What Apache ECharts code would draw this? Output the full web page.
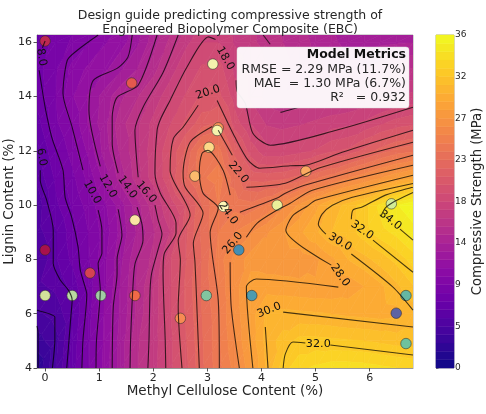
<!DOCTYPE html>
<html>
<head>
<meta charset="utf-8">
<style>html,body{margin:0;padding:0;background:#fff}#chart{width:486px;height:414px}</style>
<script src="https://cdn.jsdelivr.net/npm/echarts@6/dist/echarts.min.js"></script>
</head>
<body>
<div id="chart"></div>
<script>
// Grid nodes of the predicted strength surface
const gridX = [-0.15,0.2,0.5,0.8,1.1,1.4,1.7,2.0,2.3,2.6,2.9,3.2,3.5,3.8,4.1,4.4,4.7,5.0,5.3,5.6,5.9,6.2,6.5,6.8];
const gridY = [4,5,6,7,8,9,10,11,12,13,14,15,16,16.27];
// Predicted compressive strength (MPa), one row per lignin level
const strength = [
 [1.9,4.5,6.7,8.9,11.1,13,15.2,16.6,18.5,20.4,22.3,23.9,25.5,27.7,29.9,32,33,33.5,33.8,33.8,33.7,33.5,33.3,33.1],
 [3.2,4.2,6.5,8.8,11,13,15.1,16.5,18.5,20.6,22.4,24,26,28.2,30.1,31,31.8,31.8,31.7,31.6,31.5,31.3,31.1,31],
 [4.3,4.9,6.1,8.6,10.9,12.8,14.6,16.4,18.7,20.8,22.5,24,26.3,28.3,30,30,29.9,29.8,29.7,29.5,29.4,29.3,29.4,30],
 [5.2,5.6,6.6,8.4,10.6,12.7,14.5,16.3,18.7,20.9,22.6,24.3,26.4,28.5,28.3,28.2,28.1,28,28,28.2,28.8,29.5,30.4,31.4],
 [4.4,6.2,7.4,8.9,10.6,12.4,14.3,15.6,18.7,20.6,22.5,24.6,26.4,27.4,27.4,27.4,27.4,27.7,28.6,29.7,30.3,31,31.8,32.8],
 [5,6.2,7.7,9,10.3,12,13.6,15.1,17,20.5,22.7,24.3,25.2,26,26.9,27.8,28.6,29.5,30.6,31,32,32.9,33.6,34.6],
 [4.8,7,8.2,9.4,10.6,12.2,14,15.8,18.2,20,22.5,24.3,24,23.7,24.4,25.8,27.2,28.5,30,31,32,33.6,35,36],
 [5.6,7.4,8.7,10.2,12,14,15.8,17.6,19.8,22.3,24.1,24.8,23,21.3,21.2,21.4,21.9,23.3,24,25.2,26,27,27.9,28.7],
 [6,8,9.4,11,13,14.6,16,17.7,19.8,21.8,24,23.8,21.3,19.4,18.3,18.3,18.6,19,19.7,20,21,22,22.8,23.2],
 [6.8,8.8,10,11.8,13.2,15,16,17.4,18.8,20,21.2,21.8,19.4,18,17,16.8,17,17.3,17.6,17.8,18.2,18.8,19.3,19.6],
 [7.6,9,10.7,11.8,13,14.2,15.2,16.4,17.8,19,20,20.1,18.5,16.9,15.9,15.4,15.6,15.8,16,16.1,16.4,16.8,17.2,17.4],
 [7.7,8.9,10.2,11,11.5,12.5,13.5,14.9,16.5,18,19.1,19.4,17.8,16.9,16.2,15.6,14.9,14.6,14.3,14.3,14.5,14.9,15.1,15.4],
 [7,8.6,9.1,9.8,10.7,11.3,12.4,14,15.5,16.8,18,18,17,16.4,15.9,15.3,14.8,14.2,13.7,13.2,13.2,13.3,13.4,13.5],
 [7,8.5,9,9.6,10.3,11.2,12.2,13.9,15.2,16.5,17.6,17.8,17,16.4,15.8,15.2,14.7,14.1,13.6,13.1,13.1,13.2,13.3,13.4]
];

// Iso-strength lines, each level split into runs where the line is unbroken
const contour2 = [[[-0.15,5.55],[-0.13,5.3],[-0.13,4]]];
const contour4 = [[[-0.15,6.13],[0.09,5.99],[0.18,5.88],[0.18,5.03],[0.135,4]]];
const contour6 = [[[-0.09,11.29],[-0.09,10.92],[0.03,10.18],[0.15,9.08],[0.15,7.86],[0.28,7.24],[0.43,6.87],[0.5,6.5],[0.48,5.99],[0.4,4]]];
const contour8 = [
 [[0,16.05],[-0.05,15.8]],
 [[-0.11,14.97],[0,13.61],[0.09,12.76],[0.14,12.39],[0.33,11.29],[0.37,10.29],[0.49,9.56],[0.61,8.45],[0.65,7.61],[0.74,6.98],[0.77,6.72],[0.7,5.03],[0.68,4]]
];
const contour10 = [
 [[0.98,16.27],[0.59,15.7],[0.41,15.34],[0.33,14.12],[0.5,12.87],[0.7,11.29]],
 [[0.98,9.82],[1.05,9.08],[1.05,8.23],[0.98,7.86],[1.02,6.87],[0.95,5.03],[0.94,4]]
];
const contour12 = [
 [[1.61,16.27],[1.53,15.45],[1.33,15.04],[0.89,14.6],[0.81,13.5],[1.02,11.43]],
 [[1.35,9.85],[1.42,8.9],[1.33,8.01],[1.33,7.46],[1.26,6.25],[1.24,4]]
];
const contour14 = [
 [[2.07,16.27],[1.72,14.42],[1.33,13.97],[1.24,13.24],[1.24,12.28],[1.35,11.18]],
 [[1.7,9.93],[1.79,9.3],[1.81,8.71],[1.66,7.83],[1.62,6.87],[1.58,5.03],[1.57,4]]
];
const contour16 = [
 [[2.46,16.27],[2.18,14.89],[1.81,13.61],[1.66,12.76],[1.72,11.03]],
 [[2.03,10],[2.09,9.45],[2.16,8.93],[2.1,8.45],[1.97,7.5],[1.94,6.87],[1.92,5.03],[1.9,4]],
 [[4.03,16.27],[4.16,15.93]],
 [[4.35,13.42],[4.5,13.5],[4.7,13.62]]
];
const contour18 = [
 [[3.15,16.1],[3.02,16.2],[2.62,15.08],[2.31,13.86],[2.14,13.2],[2.07,12.76],[2.03,11.18],[2.13,10.44],[2.42,9.34],[2.42,8.97],[2.2,8.2],[2.18,7.5],[2.22,5.03],[2.23,4]],
 [[3.53,14.6],[3.55,14.2],[3.7,13.75],[3.84,12.65],[4.16,12.21],[5.38,12.76],[6.8,13.61]]
];
const contour20 = [
 [[2.83,13.68],[2.55,12.87],[2.37,12.45],[2.31,11.29],[2.68,9.63],[2.46,8.71],[2.5,7.97],[2.46,6.25],[2.53,4]],
 [[3.18,13.86],[3.51,12.5],[3.75,11.66],[3.97,11.36],[4.53,11.45],[4.81,11.47],[5.49,11.95],[6.8,12.76]]
];
const contour22 = [
 [[3.09,12.9],[2.68,12.32],[2.55,11.18],[2.59,10.66],[2.92,9.7],[2.74,8.6],[2.77,7.9],[2.81,6],[2.85,4]],
 [[3.2,12.76],[3.46,11.84]],
 [[3.72,10.66],[4.44,10.81],[5.05,11.36],[6.8,12.32]]
];
const contour24 = [
 [[3.22,4],[3.2,6.5],[3.05,9],[3.2,9.89],[2.92,10.44],[2.85,11.18],[2.9,11.91],[3.01,12.02],[3.29,11.29],[3.42,10.37]],
 [[3.6,9.74],[4.29,10.26],[4.44,10.44],[4.81,10.74],[6.8,11.84]]
];
const contour26 = [
 [[3.42,7.9],[3.44,6.25],[3.59,4]],
 [[3.72,8.82],[3.92,9.34],[4.29,9.82],[4.53,10.07],[4.94,10.55],[6.8,11.47]]
];
const contour28 = [
 [[3.84,4],[3.72,6.98],[3.9,7.28],[5.42,6.98]],
 [[5.29,7.79],[4.45,9.08],[4.57,9.6],[4.85,9.97],[5,10.18],[6.8,11.1]]
];
const contour30 = [
 [[4.12,4],[4.07,5.51]],
 [[4.4,6.06],[6.8,5.51]],
 [[5.19,8.93],[5.05,9.3],[5.12,9.67],[5.31,10],[5.68,10.29],[6.8,10.8]],
 [[5.66,8.2],[6.43,6.98],[6.8,6.13]]
];
const contour32 = [
 [[4.4,4],[4.44,4.52],[4.58,4.96],[4.81,4.92]],
 [[5.27,4.85],[6.8,4.48]],
 [[5.66,9.48],[5.69,9.82],[5.86,9.93],[6.29,10.37],[6.8,10.66]],
 [[6.06,8.71],[6.8,7.53]]
];
const contour34 = [
 [[6.21,9.6],[6.29,9.9],[6.47,10.15],[6.8,10.47]],
 [[6.56,9.12],[6.8,8.71]]
];
const contourLevels = [contour2,contour4,contour6,contour8,contour10,contour12,contour14,contour16,contour18,contour20,contour22,contour24,contour26,contour28,contour30,contour32,contour34];

// In-line contour labels
const labelText = ['8.0','6.0','10.0','12.0','14.0','16.0','18.0','20.0','22.0','24.0','26.0','28.0','30.0','30.0','32.0','32.0','34.0'];
const labelX = [-0.07,-0.065,0.87,1.16,1.52,1.87,3.33,3.01,3.57,3.38,3.47,5.45,5.45,4.14,5.86,5.05,6.38];
const labelY = [15.45,11.77,10.48,10.7,10.66,10.48,15.41,14.16,11.21,9.7,8.6,7.42,8.64,6.13,9.08,4.88,9.45];
const labelAngle = [-80,-80,-60,-60,-55,-50,-60,18,-50,-55,50,-55,-30,22,-35,0,-38];

// Measured specimens: composition and strength class for colouring
const pointCellulose = [0,1.6,3.1,3.2,3.18,3.03,2.77,4.82,4.29,6.4,3.3,1.66,0,0.83,3.58,0,0.5,1.03,1.66,2.5,2.98,3.82,6.49,6.67,6.67];
const pointLignin = [16.05,14.5,15.2,12.85,12.75,12.13,11.07,11.25,10,10.05,9.95,9.45,8.35,7.5,8.35,6.67,6.67,6.67,6.67,5.83,6.67,6.67,6.02,6.67,4.9];
const pointClass = [2.5,5.8,19.4,9.7,19,14.4,12,10.8,21,23,18,16.2,1,4.3,32,22.3,24,25.6,7.2,9,27.7,31.3,35,29.5,28.8];

// Axis ticks
const xTicks = [0,1,2,3,4,5,6];
const yTicks = [4,6,8,10,12,14,16];
const barTicks = [0,4.5,9,13.5,18,22.5,27,31.5,36];
const barTickLabels = ['0','5','9','14','18','23','27','32','36'];

const metricsLines = ['RMSE = 2.29 MPa (11.7%)','MAE  = 1.30 MPa (6.7%)','R\u00b2   = 0.932'];

const PLASMA = ['#0d0887','#41049d','#6a00a8','#8f0da4','#b12a90','#cc4778','#e16462','#f2844b','#fca636','#fcce25','#f0f921'];
const SPECTRAL = ['#9e0142','#d53e4f','#f46d43','#fdae61','#fee08b','#ffffbf','#e6f598','#abdda4','#66c2a5','#3288bd','#5e4fa2'];
const ZMAX = 36, BAND_COUNT = 40;

function ramp(table, t) {
  t = Math.max(0, Math.min(1, t));
  const f = t * (table.length - 1), i = Math.min(table.length - 2, Math.floor(f)), k = f - i;
  const a = parseInt(table[i].slice(1), 16), b = parseInt(table[i + 1].slice(1), 16);
  const mix = s => Math.round(((a >> s) & 255) * (1 - k) + ((b >> s) & 255) * k);
  return 'rgb(' + mix(16) + ',' + mix(8) + ',' + mix(0) + ')';
}

const bands = [];
for (let i = 0; i < BAND_COUNT; i++) {
  const lo = i * ZMAX / BAND_COUNT, hi = (i + 1) * ZMAX / BAND_COUNT;
  bands.push({ lo, hi, color: ramp(PLASMA, (lo + hi) / 2 / ZMAX) });
}

// Clip a polygon [x,y,z] against z >= limit (sign 1) or z <= limit (sign -1)
function clipZ(poly, limit, sign) {
  const out = [];
  for (let i = 0; i < poly.length; i++) {
    const p = poly[i], q = poly[(i + 1) % poly.length];
    const pIn = sign * (p[2] - limit) >= 0, qIn = sign * (q[2] - limit) >= 0;
    if (pIn) out.push(p);
    if (pIn !== qIn) {
      const k = (limit - p[2]) / (q[2] - p[2]);
      out.push([p[0] + k * (q[0] - p[0]), p[1] + k * (q[1] - p[1]), limit]);
    }
  }
  return out;
}

// Triangles of the surface, used as the items of the filled-contour series
const triangles = [];
for (let r = 0; r < gridY.length - 1; r++) {
  for (let c = 0; c < gridX.length - 1; c++) {
    const v = (i, j) => [gridX[j], gridY[i], strength[i][j]];
    triangles.push([v(r, c), v(r, c + 1), v(r + 1, c + 1)]);
    triangles.push([v(r, c), v(r + 1, c + 1), v(r + 1, c)]);
  }
}

function renderTriangle(params, api) {
  const tri = triangles[params.dataIndex];
  const zs = tri.map(p => p[2]);
  const zMin = Math.min(...zs), zMax = Math.max(...zs);
  const children = [];
  bands.forEach(b => {
    if (b.hi < zMin || b.lo > zMax) return;
    let poly = clipZ(tri, b.lo, 1);
    if (poly.length) poly = clipZ(poly, b.hi, -1);
    if (poly.length < 3) return;
    children.push({
      type: 'polygon',
      shape: { points: poly.map(p => api.coord([p[0], p[1]])) },
      style: { fill: b.color, stroke: b.color, lineWidth: 0.7 }
    });
  });
  return { type: 'group', children };
}

const contourSeries = [];
contourLevels.forEach(runs => runs.forEach(run => contourSeries.push({
  type: 'line', data: run, smooth: 0.25, showSymbol: false, silent: true, z: 4,
  lineStyle: { color: 'rgba(0,0,0,0.72)', width: 1.1 }
})));

const TEXT = '#262626';
const FONT = '"DejaVu Sans", sans-serif';

const option = {
  animation: false,
  textStyle: { fontFamily: FONT },
  title: {
    text: 'Design guide predicting compressive strength of\nEngineered Biopolymer Composite (EBC)',
    left: 225, top: 4, textAlign: 'center',
    textStyle: { fontFamily: FONT, fontSize: 12.5, fontWeight: 'normal', color: TEXT, lineHeight: 14 }
  },
  grid: [
    { left: 37, right: 73, top: 35, bottom: 46, outerBoundsMode: 'none', show: true, borderColor: '#aaa', borderWidth: 1 },
    { left: 436, right: 32, top: 35, bottom: 46, outerBoundsMode: 'none', show: true, borderColor: '#aaa', borderWidth: 1 }
  ],
  xAxis: [
    {
      type: 'value', gridIndex: 0, min: -0.15, max: 6.8,
      name: 'Methyl Cellulose Content (%)', nameLocation: 'middle', nameGap: 16, nameMoveOverlap: false,
      nameTextStyle: { fontSize: 13.5, color: TEXT },
      splitLine: { show: false },
      axisLine: { onZero: false, lineStyle: { color: '#999' } },
      axisTick: { customValues: xTicks, length: 3.5, lineStyle: { color: '#555' } },
      axisLabel: { customValues: xTicks, fontSize: 11, color: TEXT, margin: 5 }
    },
    { type: 'value', gridIndex: 1, min: 0, max: 1, show: false }
  ],
  yAxis: [
    {
      type: 'value', gridIndex: 0, min: 4, max: 16.27,
      name: 'Lignin Content (%)', nameLocation: 'middle', nameGap: 21, nameMoveOverlap: false,
      nameTextStyle: { fontSize: 13.5, color: TEXT },
      splitLine: { show: false },
      axisLine: { onZero: false, lineStyle: { color: '#999' } },
      axisTick: { customValues: yTicks, length: 3.5, lineStyle: { color: '#555' } },
      axisLabel: { customValues: yTicks, fontSize: 11, color: TEXT, margin: 5 }
    },
    {
      type: 'value', gridIndex: 1, min: 0, max: 36, position: 'right',
      name: 'Compressive Strength (MPa)', nameLocation: 'middle', nameGap: 17, nameRotate: 90, nameMoveOverlap: false,
      nameTextStyle: { fontSize: 13.2, color: TEXT },
      splitLine: { show: false },
      axisLine: { show: false },
      axisTick: { customValues: barTicks, length: 2.5, lineStyle: { color: '#777' } },
      axisLabel: {
        customValues: barTicks, fontSize: 9, color: TEXT, margin: 1,
        formatter: v => barTickLabels[barTicks.indexOf(v)]
      }
    }
  ],
  series: [
    {
      type: 'custom', xAxisIndex: 0, yAxisIndex: 0, z: 1, silent: true, clip: true,
      data: triangles.map((t, i) => i), renderItem: renderTriangle
    },
    {
      type: 'custom', xAxisIndex: 1, yAxisIndex: 1, z: 1, silent: true,
      data: bands.map((b, i) => i),
      renderItem(params, api) {
        const b = bands[params.dataIndex];
        const p0 = api.coord([0, b.hi]), p1 = api.coord([1, b.lo]);
        return { type: 'rect', shape: { x: p0[0], y: p0[1], width: p1[0] - p0[0], height: p1[1] - p0[1] },
          style: { fill: b.color, stroke: b.color, lineWidth: 0.5 } };
      }
    },
    {
      type: 'scatter', xAxisIndex: 0, yAxisIndex: 0, z: 3, silent: true, symbolSize: 10.5,
      data: pointCellulose.map((x, i) => [x, pointLignin[i], pointClass[i]]),
      itemStyle: {
        color: p => ramp(SPECTRAL, p.value[2] / ZMAX),
        opacity: 0.94, borderColor: 'rgba(40,40,40,0.8)', borderWidth: 0.7
      }
    },
    ...contourSeries,
    {
      type: 'custom', xAxisIndex: 0, yAxisIndex: 0, z: 5, silent: true, clip: false,
      data: labelText.map((t, i) => i),
      renderItem(params, api) {
        const i = params.dataIndex, pos = api.coord([labelX[i], labelY[i]]);
        return { type: 'text', x: pos[0], y: pos[1], rotation: labelAngle[i] * Math.PI / 180,
          style: { text: labelText[i], fill: '#111', font: '11.2px ' + FONT, align: 'center', verticalAlign: 'middle' } };
      }
    }
  ],
  graphic: [
    { type: 'rect', z: 20, silent: true, shape: { x: 237, y: 47, width: 172, height: 61, r: 3 },
      style: { fill: 'rgba(255,255,255,0.94)', stroke: 'rgba(220,220,220,0.8)', lineWidth: 0.6 } },
    { type: 'text', z: 21, silent: true, x: 406, y: 55,
      style: { text: 'Model Metrics', fill: '#111', font: 'bold 12.5px ' + FONT, align: 'right', verticalAlign: 'middle' } },
    ...metricsLines.map((line, i) => ({
      type: 'text', z: 21, silent: true, x: 406, y: 69.5 + i * 14.3,
      style: { text: line, fill: TEXT, font: '12.5px ' + FONT, align: 'right', verticalAlign: 'middle' }
    }))
  ]
};

const chart = echarts.init(document.getElementById('chart'), null, { renderer: 'canvas' });
chart.setOption(option);
</script>
</body>
</html>
